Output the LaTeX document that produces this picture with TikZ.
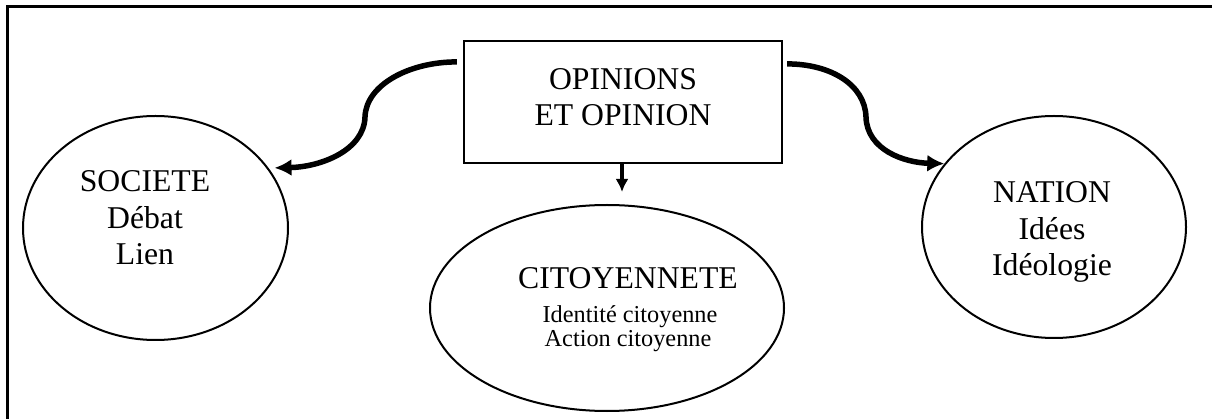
\documentclass[tikz,border=0pt]{standalone}
\usepackage{fontspec}
\setmainfont{Liberation Serif}
\usetikzlibrary{arrows.meta,calc,shapes.geometric}
\tikzset{
  frameline/.style={line width=2.5pt},
  boxst/.style={draw,line width=2.2pt,rectangle,inner sep=0pt,minimum width=318pt,minimum height=122pt},
  ovalst/.style={draw,line width=2pt,ellipse,inner sep=0pt},
  bigtxt/.style={font=\fontsize{31.7}{36.5}\selectfont,align=center,inner sep=0pt},
  smalltxt/.style={font=\fontsize{24.3}{25}\selectfont,inner sep=0pt,anchor=base},
  bigarrow/.style={line width=5.5pt,-{Latex[length=17pt,width=17pt]}},
  smallarrow/.style={line width=3.2pt,-{Latex[length=13pt,width=13pt]}}
}
\begin{document}
\begin{tikzpicture}[x=1pt,y=-1pt]
\useasboundingbox (0,0) rectangle (1212,419);
% frame (only top and left sides visible)
\draw[frameline] (7.5,419) -- (7.5,6.5) -- (1212,6.5);
% central box
\node[boxst] (op) at (623,102) {};
\node[bigtxt] (opt) at (623,97) {OPINIONS\\ET OPINION};
% ellipses
\node[ovalst,minimum width=265pt,minimum height=224pt] (soc) at (155.5,228) {};
\node[bigtxt] (soct) at (145,218) {SOCIETE\\Débat\\Lien};
\node[ovalst,minimum width=264pt,minimum height=222pt] (nat) at (1054,227) {};
\node[bigtxt] (natt) at (1052,232) {NATION\\Idées\\Idéologie};
\node[ovalst,minimum width=354pt,minimum height=206pt] (cit) at (607,308) {};
\node[bigtxt,anchor=base] (cit1) at (628,289) {CITOYENNETE};
\node[smalltxt] (cit2) at (630,323) {Identité citoyenne};
\node[smalltxt] (cit3) at (628,347) {Action citoyenne};
% connectors
\coordinate (lmid) at (365,117);
\coordinate (rmid) at (866,117);
\coordinate (dend) at (622,192);
\draw[bigarrow] ($(op.north west)+(-6,22)$) .. controls +(-48,0) and +(1,-32) .. (lmid)
  .. controls +(-1,33) and +(47,-1) .. ($(soc.28)+(6,0)$);
\draw[bigarrow] ($(op.north east)+(4,24)$) .. controls +(44,0) and +(-1,-32) .. (rmid)
  .. controls +(1,33) and +(-40,-1) .. (nat.150.8);
\draw[smallarrow] (op.south -| dend) -- (dend);
\end{tikzpicture}
\end{document}
